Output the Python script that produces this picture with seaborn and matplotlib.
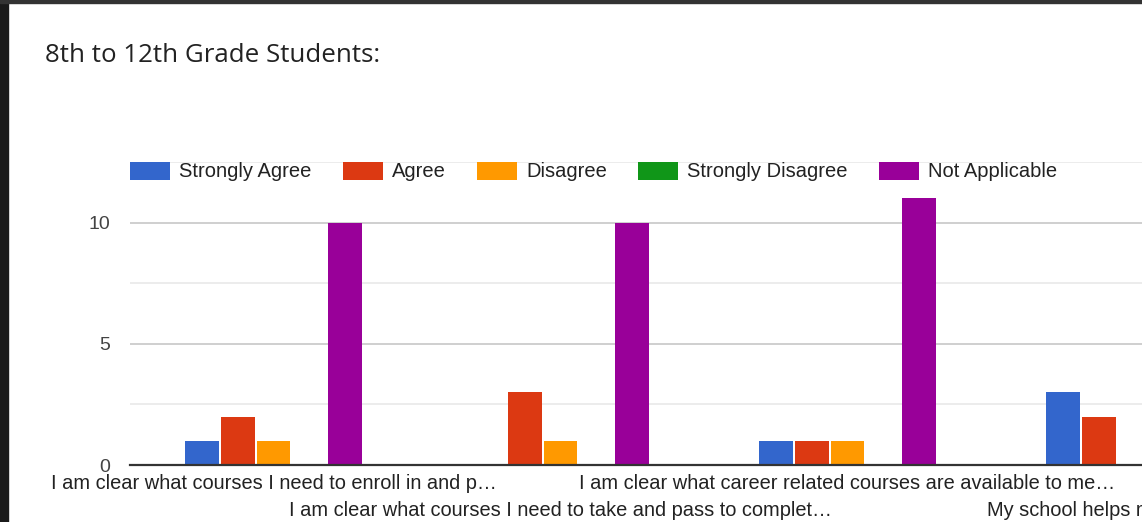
import matplotlib
matplotlib.use("Agg")
import matplotlib.pyplot as plt
from matplotlib.patches import Rectangle
from matplotlib.ticker import MultipleLocator
import seaborn as sns
import pandas as pd

# ---- data ----
categories = [
    "I am clear what courses I need to enroll in and p…",
    "I am clear what courses I need to take and pass to complet…",
    "I am clear what career related courses are available to me…",
    "My school helps me plan my fu…",
]
responses = ["Strongly Agree", "Agree", "Disagree", "Strongly Disagree", "Not Applicable"]
strongly_agree = [1, 0, 1, 3]
agree = [2, 3, 1, 2]
disagree = [1, 1, 1, 0]
strongly_disagree = [0, 0, 0, 0]
not_applicable = [10, 10, 11, 6]
colors = ["#3366cc", "#dc3912", "#ff9900", "#109618", "#990099"]
title = "8th to 12th Grade Students:"

series = [strongly_agree, agree, disagree, strongly_disagree, not_applicable]
rows = []
for resp, vals in zip(responses, series):
    for cat, v in zip(categories, vals):
        rows.append({"category": cat, "response": resp, "count": v})
df = pd.DataFrame(rows)

# ---- figure ----
sns.set_theme(style="white")
plt.rcParams["font.family"] = ["Liberation Sans", "DejaVu Sans"]

W, H = 1142, 522
fig = plt.figure(figsize=(W / 100, H / 100), dpi=100)
fig.patch.set_facecolor("white")

left_px, right_px = 130, 130 + 4 * 287
top_px, bottom_px = 162, 465
ax = fig.add_axes([left_px / W, 1 - bottom_px / H, (right_px - left_px) / W, (bottom_px - top_px) / H])

sns.barplot(data=df, x="category", y="count", hue="response", order=categories,
            hue_order=responses, palette=colors, width=0.62, gap=0.05,
            linewidth=0, saturation=1, ax=ax, errorbar=None)

ax.set_xlim(-0.5, len(categories) - 0.5)
ax.set_ylim(0, 12.5)
ax.yaxis.set_major_locator(MultipleLocator(5))
ax.yaxis.set_minor_locator(MultipleLocator(2.5))
ax.grid(which="major", axis="y", color="#cccccc", linewidth=1.3)
ax.grid(which="minor", axis="y", color="#ebebeb", linewidth=1.3)
ax.grid(axis="x", visible=False)
ax.set_axisbelow(True)
for s in ["top", "right", "left"]:
    ax.spines[s].set_visible(False)
ax.spines["bottom"].set_color("#333333")
ax.spines["bottom"].set_linewidth(1.6)
ax.spines["bottom"].set_zorder(5)

ax.set_xlabel("")
ax.set_ylabel("")
ax.tick_params(axis="y", which="both", length=0, pad=14.5, labelsize=14, labelcolor="#444444")
ax.tick_params(axis="x", length=0, labelsize=14.4, labelcolor="#222222")
ax.set_yticks([0, 5, 10])
ax.set_yticklabels(["0", "5", "10"])
for i, t in enumerate(ax.xaxis.get_major_ticks()):
    t.set_pad(6.5 if i % 2 == 0 else 26)

handles, labels = ax.get_legend_handles_labels()
ax.legend(handles, labels, ncol=5, loc="center left",
          bbox_to_anchor=(left_px / W, 1 - 171.5 / H), bbox_transform=fig.transFigure,
          frameon=False, fontsize=14.5, borderpad=0, borderaxespad=0,
          handlelength=1.99, handleheight=1.0, handletextpad=0.45, columnspacing=1.55,
          labelcolor="#222222")

fig.text(45 / W, 1 - 62 / H, title, fontsize=18.6, color="#222222",
         family=["Open Sans", "DejaVu Sans"], va="baseline", ha="left")

# dark screenshot frame
fig.patches.append(Rectangle((0, 0), 8 / W, 1, transform=fig.transFigure,
                             color="#1a1a1a", zorder=10))
fig.patches.append(Rectangle((0, 1 - 3 / H), 1, 3 / H, transform=fig.transFigure,
                             color="#333333", zorder=10))

fig.savefig("out.png", dpi=100)
